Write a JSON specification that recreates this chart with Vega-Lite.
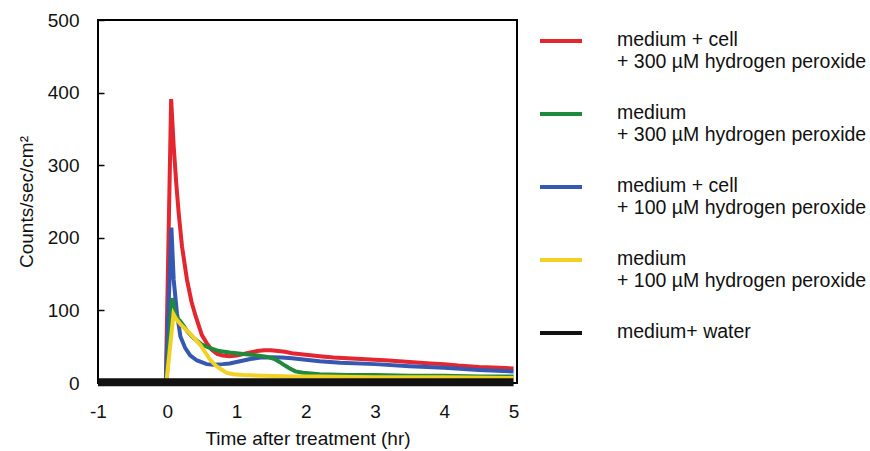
{
  "$schema": "https://vega.github.io/schema/vega-lite/v6.json",
  "autosize": "none",
  "width": 419,
  "height": 363,
  "padding": {"left": 98, "top": 20, "right": 353, "bottom": 68},
  "background": "white",
  "config": {
    "view": {"stroke": "#000", "strokeWidth": 2},
    "font": "Liberation Sans",
    "axis": {"labelFont": "Liberation Sans", "titleFont": "Liberation Sans", "labelFontSize": 19, "titleFontSize": 19, "labelColor": "#111", "titleColor": "#111", "titleFontWeight": "normal", "grid": false, "domain": false}
  },
  "datasets": {
    "curves": [
      {"series": "medium + cell|+ 300 µM hydrogen peroxide", "t": -0.02, "v": 3},
      {"series": "medium + cell|+ 300 µM hydrogen peroxide", "t": 0.056, "v": 391},
      {"series": "medium + cell|+ 300 µM hydrogen peroxide", "t": 0.093, "v": 326},
      {"series": "medium + cell|+ 300 µM hydrogen peroxide", "t": 0.13, "v": 275},
      {"series": "medium + cell|+ 300 µM hydrogen peroxide", "t": 0.165, "v": 234},
      {"series": "medium + cell|+ 300 µM hydrogen peroxide", "t": 0.213, "v": 188},
      {"series": "medium + cell|+ 300 µM hydrogen peroxide", "t": 0.285, "v": 142},
      {"series": "medium + cell|+ 300 µM hydrogen peroxide", "t": 0.35, "v": 112},
      {"series": "medium + cell|+ 300 µM hydrogen peroxide", "t": 0.41, "v": 92},
      {"series": "medium + cell|+ 300 µM hydrogen peroxide", "t": 0.5, "v": 66},
      {"series": "medium + cell|+ 300 µM hydrogen peroxide", "t": 0.57, "v": 55},
      {"series": "medium + cell|+ 300 µM hydrogen peroxide", "t": 0.64, "v": 46},
      {"series": "medium + cell|+ 300 µM hydrogen peroxide", "t": 0.72, "v": 40},
      {"series": "medium + cell|+ 300 µM hydrogen peroxide", "t": 0.8, "v": 38},
      {"series": "medium + cell|+ 300 µM hydrogen peroxide", "t": 0.9, "v": 37},
      {"series": "medium + cell|+ 300 µM hydrogen peroxide", "t": 1.0, "v": 38},
      {"series": "medium + cell|+ 300 µM hydrogen peroxide", "t": 1.1, "v": 40},
      {"series": "medium + cell|+ 300 µM hydrogen peroxide", "t": 1.2, "v": 42},
      {"series": "medium + cell|+ 300 µM hydrogen peroxide", "t": 1.3, "v": 44},
      {"series": "medium + cell|+ 300 µM hydrogen peroxide", "t": 1.4, "v": 45},
      {"series": "medium + cell|+ 300 µM hydrogen peroxide", "t": 1.5, "v": 45},
      {"series": "medium + cell|+ 300 µM hydrogen peroxide", "t": 1.6, "v": 44},
      {"series": "medium + cell|+ 300 µM hydrogen peroxide", "t": 1.7, "v": 43},
      {"series": "medium + cell|+ 300 µM hydrogen peroxide", "t": 1.8, "v": 41},
      {"series": "medium + cell|+ 300 µM hydrogen peroxide", "t": 1.9, "v": 40},
      {"series": "medium + cell|+ 300 µM hydrogen peroxide", "t": 2.0, "v": 39},
      {"series": "medium + cell|+ 300 µM hydrogen peroxide", "t": 2.2, "v": 37},
      {"series": "medium + cell|+ 300 µM hydrogen peroxide", "t": 2.4, "v": 35},
      {"series": "medium + cell|+ 300 µM hydrogen peroxide", "t": 2.6, "v": 34},
      {"series": "medium + cell|+ 300 µM hydrogen peroxide", "t": 2.8, "v": 33},
      {"series": "medium + cell|+ 300 µM hydrogen peroxide", "t": 3.0, "v": 32},
      {"series": "medium + cell|+ 300 µM hydrogen peroxide", "t": 3.2, "v": 31},
      {"series": "medium + cell|+ 300 µM hydrogen peroxide", "t": 3.5, "v": 29},
      {"series": "medium + cell|+ 300 µM hydrogen peroxide", "t": 3.8, "v": 27},
      {"series": "medium + cell|+ 300 µM hydrogen peroxide", "t": 4.0, "v": 26},
      {"series": "medium + cell|+ 300 µM hydrogen peroxide", "t": 4.2, "v": 24},
      {"series": "medium + cell|+ 300 µM hydrogen peroxide", "t": 4.5, "v": 22},
      {"series": "medium + cell|+ 300 µM hydrogen peroxide", "t": 4.8, "v": 21},
      {"series": "medium + cell|+ 300 µM hydrogen peroxide", "t": 5.0, "v": 20},

      {"series": "medium + cell|+ 100 µM hydrogen peroxide", "t": -0.02, "v": 3},
      {"series": "medium + cell|+ 100 µM hydrogen peroxide", "t": 0.06, "v": 214},
      {"series": "medium + cell|+ 100 µM hydrogen peroxide", "t": 0.093, "v": 142},
      {"series": "medium + cell|+ 100 µM hydrogen peroxide", "t": 0.14, "v": 96},
      {"series": "medium + cell|+ 100 µM hydrogen peroxide", "t": 0.19, "v": 64},
      {"series": "medium + cell|+ 100 µM hydrogen peroxide", "t": 0.26, "v": 48},
      {"series": "medium + cell|+ 100 µM hydrogen peroxide", "t": 0.33, "v": 38},
      {"series": "medium + cell|+ 100 µM hydrogen peroxide", "t": 0.43, "v": 31},
      {"series": "medium + cell|+ 100 µM hydrogen peroxide", "t": 0.57, "v": 26},
      {"series": "medium + cell|+ 100 µM hydrogen peroxide", "t": 0.67, "v": 25},
      {"series": "medium + cell|+ 100 µM hydrogen peroxide", "t": 0.8, "v": 26},
      {"series": "medium + cell|+ 100 µM hydrogen peroxide", "t": 0.9, "v": 27},
      {"series": "medium + cell|+ 100 µM hydrogen peroxide", "t": 1.0, "v": 29},
      {"series": "medium + cell|+ 100 µM hydrogen peroxide", "t": 1.1, "v": 31},
      {"series": "medium + cell|+ 100 µM hydrogen peroxide", "t": 1.2, "v": 33},
      {"series": "medium + cell|+ 100 µM hydrogen peroxide", "t": 1.35, "v": 35},
      {"series": "medium + cell|+ 100 µM hydrogen peroxide", "t": 1.5, "v": 35.5},
      {"series": "medium + cell|+ 100 µM hydrogen peroxide", "t": 1.65, "v": 35},
      {"series": "medium + cell|+ 100 µM hydrogen peroxide", "t": 1.8, "v": 34},
      {"series": "medium + cell|+ 100 µM hydrogen peroxide", "t": 2.0, "v": 32},
      {"series": "medium + cell|+ 100 µM hydrogen peroxide", "t": 2.2, "v": 30},
      {"series": "medium + cell|+ 100 µM hydrogen peroxide", "t": 2.5, "v": 28},
      {"series": "medium + cell|+ 100 µM hydrogen peroxide", "t": 3.0, "v": 26},
      {"series": "medium + cell|+ 100 µM hydrogen peroxide", "t": 3.5, "v": 23},
      {"series": "medium + cell|+ 100 µM hydrogen peroxide", "t": 4.0, "v": 21},
      {"series": "medium + cell|+ 100 µM hydrogen peroxide", "t": 4.5, "v": 18},
      {"series": "medium + cell|+ 100 µM hydrogen peroxide", "t": 5.0, "v": 16},

      {"series": "medium|+ 300 µM hydrogen peroxide", "t": -0.01, "v": 3},
      {"series": "medium|+ 300 µM hydrogen peroxide", "t": 0.07, "v": 117},
      {"series": "medium|+ 300 µM hydrogen peroxide", "t": 0.117, "v": 92},
      {"series": "medium|+ 300 µM hydrogen peroxide", "t": 0.19, "v": 85},
      {"series": "medium|+ 300 µM hydrogen peroxide", "t": 0.3, "v": 70},
      {"series": "medium|+ 300 µM hydrogen peroxide", "t": 0.38, "v": 62},
      {"series": "medium|+ 300 µM hydrogen peroxide", "t": 0.5, "v": 53},
      {"series": "medium|+ 300 µM hydrogen peroxide", "t": 0.62, "v": 48},
      {"series": "medium|+ 300 µM hydrogen peroxide", "t": 0.75, "v": 44},
      {"series": "medium|+ 300 µM hydrogen peroxide", "t": 0.9, "v": 42},
      {"series": "medium|+ 300 µM hydrogen peroxide", "t": 1.1, "v": 40},
      {"series": "medium|+ 300 µM hydrogen peroxide", "t": 1.3, "v": 38},
      {"series": "medium|+ 300 µM hydrogen peroxide", "t": 1.45, "v": 36},
      {"series": "medium|+ 300 µM hydrogen peroxide", "t": 1.55, "v": 33},
      {"series": "medium|+ 300 µM hydrogen peroxide", "t": 1.62, "v": 29},
      {"series": "medium|+ 300 µM hydrogen peroxide", "t": 1.7, "v": 24},
      {"series": "medium|+ 300 µM hydrogen peroxide", "t": 1.77, "v": 20},
      {"series": "medium|+ 300 µM hydrogen peroxide", "t": 1.85, "v": 16},
      {"series": "medium|+ 300 µM hydrogen peroxide", "t": 1.96, "v": 14},
      {"series": "medium|+ 300 µM hydrogen peroxide", "t": 2.2, "v": 12},
      {"series": "medium|+ 300 µM hydrogen peroxide", "t": 2.6, "v": 11},
      {"series": "medium|+ 300 µM hydrogen peroxide", "t": 3.0, "v": 11},
      {"series": "medium|+ 300 µM hydrogen peroxide", "t": 3.5, "v": 10},
      {"series": "medium|+ 300 µM hydrogen peroxide", "t": 4.0, "v": 10},
      {"series": "medium|+ 300 µM hydrogen peroxide", "t": 4.5, "v": 9},
      {"series": "medium|+ 300 µM hydrogen peroxide", "t": 5.0, "v": 9},

      {"series": "medium|+ 100 µM hydrogen peroxide", "t": -0.01, "v": 3},
      {"series": "medium|+ 100 µM hydrogen peroxide", "t": 0.09, "v": 95},
      {"series": "medium|+ 100 µM hydrogen peroxide", "t": 0.13, "v": 88},
      {"series": "medium|+ 100 µM hydrogen peroxide", "t": 0.2, "v": 80},
      {"series": "medium|+ 100 µM hydrogen peroxide", "t": 0.33, "v": 68},
      {"series": "medium|+ 100 µM hydrogen peroxide", "t": 0.48, "v": 52},
      {"series": "medium|+ 100 µM hydrogen peroxide", "t": 0.55, "v": 42},
      {"series": "medium|+ 100 µM hydrogen peroxide", "t": 0.62, "v": 32},
      {"series": "medium|+ 100 µM hydrogen peroxide", "t": 0.7, "v": 24},
      {"series": "medium|+ 100 µM hydrogen peroxide", "t": 0.76, "v": 20},
      {"series": "medium|+ 100 µM hydrogen peroxide", "t": 0.86, "v": 14},
      {"series": "medium|+ 100 µM hydrogen peroxide", "t": 0.95, "v": 12},
      {"series": "medium|+ 100 µM hydrogen peroxide", "t": 1.1, "v": 11},
      {"series": "medium|+ 100 µM hydrogen peroxide", "t": 1.4, "v": 10},
      {"series": "medium|+ 100 µM hydrogen peroxide", "t": 1.8, "v": 9},
      {"series": "medium|+ 100 µM hydrogen peroxide", "t": 2.2, "v": 9},
      {"series": "medium|+ 100 µM hydrogen peroxide", "t": 3.0, "v": 8},
      {"series": "medium|+ 100 µM hydrogen peroxide", "t": 4.0, "v": 8},
      {"series": "medium|+ 100 µM hydrogen peroxide", "t": 5.0, "v": 7},

      {"series": "medium+ water", "t": -1, "v": 1},
      {"series": "medium+ water", "t": 0, "v": 1},
      {"series": "medium+ water", "t": 1, "v": 1},
      {"series": "medium+ water", "t": 2, "v": 1},
      {"series": "medium+ water", "t": 3, "v": 1},
      {"series": "medium+ water", "t": 4, "v": 1},
      {"series": "medium+ water", "t": 5, "v": 1}
    ]
  },
  "data": {"name": "curves"},
  "encoding": {
    "x": {"field": "t", "type": "quantitative", "scale": {"domain": [-1, 5.05], "nice": false, "zero": false},
      "axis": {"values": [-1, 0, 1, 2, 3, 4, 5], "ticks": false, "labelPadding": 19, "title": "Time after treatment (hr)", "titlePadding": 8, "labelFlush": false,
        "labelExpr": "datum.value < 0 ? '-' + abs(datum.value) : datum.label"}},
    "y": {"field": "v", "type": "quantitative", "scale": {"domain": [0, 500], "nice": false},
      "axis": {"values": [0, 100, 200, 300, 400, 500], "ticks": true, "offset": -6, "tickSize": 6, "tickColor": "#000", "tickWidth": 1.5, "labelPadding": 19, "title": "Counts/sec/cm²", "titlePadding": 11, "labelFlush": false}},
    "color": {"field": "series", "type": "nominal",
      "scale": {"domain": ["medium + cell|+ 300 µM hydrogen peroxide", "medium|+ 300 µM hydrogen peroxide", "medium + cell|+ 100 µM hydrogen peroxide", "medium|+ 100 µM hydrogen peroxide", "medium+ water"],
        "range": ["#e3262f", "#1f8a3c", "#3558b0", "#f2d024", "#111111"]},
      "legend": {"title": null, "orient": "none", "legendX": 440, "legendY": -2, "padding": 0, "symbolType": "stroke", "symbolSize": 1764, "symbolStrokeWidth": 4,
        "labelFont": "Liberation Sans", "labelFontSize": 19.5, "labelColor": "#111", "labelOffset": 33, "labelLimit": 400, "rowPadding": 19, "labelBaseline": "top",
        "labelExpr": "split(datum.label, '|')",
        "encode": {"labels": {"update": {"lineHeight": {"value": 22.5}, "dy": {"value": -10.5}}}}}}
  },
  "layer": [
    {"transform": [{"filter": "datum.series != 'medium+ water'"}], "mark": {"type": "line", "strokeWidth": 4, "interpolate": "linear"}},
    {"transform": [{"filter": "datum.series == 'medium+ water'"}], "mark": {"type": "line", "strokeWidth": 8}}
  ]
}
